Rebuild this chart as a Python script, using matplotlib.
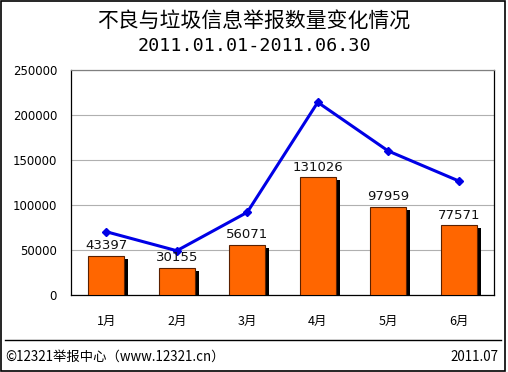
import matplotlib
matplotlib.use("Agg")
import matplotlib.pyplot as plt
from matplotlib.lines import Line2D
from matplotlib.patches import Rectangle

plt.rcParams['font.family'] = ['Noto Sans CJK SC', 'DejaVu Sans']

# data
months = ["1月", "2月", "3月", "4月", "5月", "6月"]
bar_values = [43397, 30155, 56071, 131026, 97959, 77571]
line_values = [70300, 49200, 91900, 214100, 160000, 126700]
y_ticks = [0, 50000, 100000, 150000, 200000, 250000]

W, H = 508, 372
fig = plt.figure(figsize=(W / 100, H / 100), dpi=100)

# plot area in pixel coordinates
left, right, top, bottom = 71, 494, 70, 295
ax = fig.add_axes([left / W, 1 - bottom / H, (right - left) / W, (bottom - top) / H])

x = list(range(len(months)))
bar_w = 0.51

# shadow: ~4px right and ~3px down
px_x = len(months) / (right - left)
px_y = 250000 / (bottom - top)
shadow_x = [i + 4 * px_x for i in x]
shadow_h = [v - 3 * px_y for v in bar_values]
ax.bar(shadow_x, shadow_h, width=bar_w, color="black", zorder=2)
ax.bar(x, bar_values, width=bar_w, color="#FF6600", edgecolor="#5a2000",
       linewidth=0.8, zorder=3)

for i, v in enumerate(bar_values):
    ax.annotate(str(v), (i, v), xytext=(0, 2.5), textcoords="offset points",
                ha="center", va="bottom", fontsize=9.5, color="#111111",
                family=["DejaVu Sans"], zorder=5)

ax.plot(x, line_values, color="#0000E6", linewidth=2.2, marker="D",
        markersize=4.5, zorder=4)

ax.set_xlim(-0.5, len(months) - 0.5)
ax.set_ylim(0, 250000)
ax.set_yticks(y_ticks)
ax.set_yticklabels([str(t) for t in y_ticks], fontsize=8.5, family=["DejaVu Sans"])
ax.set_xticks(x)
ax.set_xticklabels(months, fontsize=9)
ax.tick_params(axis="both", length=0)
ax.tick_params(axis="x", pad=14)
ax.tick_params(axis="y", pad=10)
ax.yaxis.grid(True, color="#b0b0b0", linewidth=0.8, zorder=0)
ax.set_axisbelow(True)
for s in ax.spines.values():
    s.set_linewidth(0.9)
    s.set_color("black")
ax.spines["top"].set_color("#808080")

fig.text(0.5, 1 - 22 / H, "不良与垃圾信息举报数量变化情况", ha="center", va="center",
         fontsize=15)
fig.text(0.5, 1 - 46 / H, "2011.01.01-2011.06.30", ha="center", va="center",
         fontsize=13.2, family=["DejaVu Sans Mono"])

# footer
fig.add_artist(Line2D([5 / W, 501 / W], [1 - 340 / H, 1 - 340 / H],
                      color="black", linewidth=1))
fig.text(5 / W, 1 - 357 / H, "©12321举报中心（www.12321.cn）", ha="left",
         va="center", fontsize=9.6)
fig.text(498 / W, 1 - 357 / H, "2011.07", ha="right", va="center", fontsize=9.6)

# outer frame
fig.add_artist(Rectangle((0.5 / W, 1.5 / H), 504 / W, 1 - 2.5 / H,
                         fill=False, edgecolor="black", linewidth=1.2))

fig.savefig("out.png", dpi=100)
